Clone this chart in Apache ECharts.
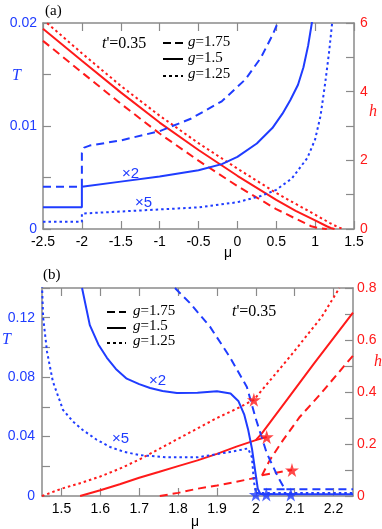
<!DOCTYPE html>
<html>
<head>
<meta charset="utf-8">
<title>T and h vs mu</title>
<script src="https://cdn.jsdelivr.net/npm/echarts@6/dist/echarts.min.js"></script>
<style>
  html, body { margin: 0; padding: 0; background: #fff; }
  #main { width: 382px; height: 529px; }
</style>
</head>
<body>
<div id="main"></div>
<script>
// ---- panel (a) ticks ----
var aMuTicks = [-2.5, -2, -1.5, -1, -0.5, 0, 0.5, 1, 1.5];
var aTTicks = [0, 0.005, 0.01, 0.015, 0.02];
var aTLabels = [0, 0.01, 0.02];
var aHTicks = [0, 1, 2, 3, 4, 5, 6];
var aHLabels = [0, 2, 4, 6];

// ---- panel (a) curves [mu, value] ----
var aT175 = [[-2.5,0.0041],[-2.0,0.0041],[-2.0,0.0074],[-1.97,0.0079],[-1.9,0.0081],[-1.5,0.0086],[-1.0,0.0095],[-0.6,0.0107],[-0.2,0.0124],[0.1,0.0145],[0.3,0.0166],[0.45,0.0188],[0.53,0.0202]];
var aT150 = [[-2.5,0.0021],[-2.0,0.0021],[-2.0,0.0041],[-1.5,0.0046],[-1.0,0.0051],[-0.5,0.0057],[-0.2,0.0063],[0,0.0070],[0.25,0.0083],[0.45,0.0098],[0.58,0.0112],[0.68,0.0125],[0.78,0.014],[0.85,0.0157],[0.91,0.0178],[0.96,0.0201]];
var aT125 = [[-2.5,0.0007],[-2.0,0.0007],[-2.0,0.0015],[-1.5,0.0017],[-1.0,0.0019],[-0.5,0.0021],[0,0.0026],[0.3,0.0032],[0.5,0.0038],[0.7,0.0049],[0.9,0.0069],[1.0,0.0087],[1.07,0.011],[1.13,0.0142],[1.18,0.0172],[1.22,0.0201]];
var aH175 = [[-2.5,5.48],[-2.0,4.56],[-1.5,3.65],[-1.0,2.78],[-0.5,1.99],[0,1.25],[0.5,0.58],[0.75,0.3],[0.95,0.08],[1.05,0.02],[1.15,0]];
var aH150 = [[-2.5,5.83],[-2.0,4.9],[-1.5,3.98],[-1.0,3.1],[-0.5,2.3],[0,1.55],[0.5,0.85],[0.75,0.53],[1.0,0.25],[1.15,0.08],[1.2,0.03],[1.25,0]];
var aH125 = [[-2.5,6.1],[-2.0,5.12],[-1.5,4.17],[-1.0,3.3],[-0.5,2.5],[0,1.76],[0.5,1.05],[0.75,0.73],[1.0,0.42],[1.2,0.16],[1.3,0.05],[1.36,0]];

// ---- panel (b) ticks ----
var bMuTicks = [1.5, 1.6, 1.7, 1.8, 1.9, 2.0, 2.1, 2.2];
var bTTicks = [0, 0.02, 0.04, 0.06, 0.08, 0.1, 0.12, 0.14];
var bTLabels = [0, 0.04, 0.08, 0.12];
var bHTicks = [0, 0.1, 0.2, 0.3, 0.4, 0.5, 0.6, 0.7, 0.8];
var bHLabels = [0, 0.2, 0.4, 0.6, 0.8];

// ---- panel (b) curves ----
var bT175 = [[1.792,0.14],[1.83,0.13],[1.882,0.114],[1.933,0.0936],[1.977,0.0734],[2.0,0.052],[2.028,0.029],[2.057,0.0128],[2.075,0.0045],[2.25,0.0045]];
var bT175b = [[2.02,0.0045],[2.075,0.0045]];
var bT150 = [[1.553,0.14],[1.573,0.115],[1.595,0.102],[1.617,0.093],[1.64,0.0855],[1.668,0.079],[1.7,0.0753],[1.728,0.0727],[1.76,0.0707],[1.797,0.0693],[1.85,0.0695],[1.9,0.0705],[1.935,0.069],[1.955,0.064],[1.97,0.055],[1.98,0.045],[1.99,0.032],[1.998,0.0175],[2.005,0.005],[2.012,0.0012],[2.25,0.0012]];
var bT125 = [[1.45,0.142],[1.453,0.12],[1.463,0.097],[1.478,0.077],[1.504,0.058],[1.53,0.05],[1.555,0.0444],[1.59,0.038],[1.625,0.033],[1.66,0.0298],[1.70,0.0276],[1.77,0.026],[1.85,0.026],[1.93,0.0295],[1.98,0.032],[1.99,0.026],[1.995,0.01],[2.0,0.002],[2.25,0.002]];
var bH175 = [[1.753,0],[1.8,0.012],[1.85,0.028],[1.9,0.04],[1.95,0.055],[2.0,0.07],[2.016,0.08],[2.036,0.138],[2.07,0.215],[2.113,0.304],[2.165,0.39],[2.25,0.54]];
var bH175b = [[2.016,0.08],[2.093,0.1]];
var bH150 = [[1.548,0],[1.6,0.022],[1.65,0.045],[1.7,0.07],[1.75,0.092],[1.8,0.115],[1.85,0.137],[1.9,0.162],[1.95,0.19],[2.0,0.215],[2.015,0.24],[2.04,0.29],[2.08,0.37],[2.15,0.51],[2.25,0.705]];
var bH150b = [[2.0,0.215],[2.028,0.227]];
var bH125 = [[1.45,0],[1.5,0.028],[1.55,0.05],[1.6,0.075],[1.65,0.105],[1.7,0.14],[1.75,0.18],[1.8,0.22],[1.85,0.26],[1.9,0.3],[1.95,0.335],[1.995,0.37],[2.09,0.54],[2.17,0.69],[2.215,0.8]];
var bHStars = [[1.995,0.37],[2.028,0.227],[2.093,0.1]];
var bTStars = [[2.0,0.001],[2.027,0.001],[2.09,0.001]];

var BLUE = '#1f3cff', RED = '#ff1a1a', AX = '#8a8a8a';
var DASH = [8, 5], DOT = [2.5, 3];
var STAR = 'path://M50,0 L61,35 L98,35 L68,57 L79,91 L50,70 L21,91 L32,57 L2,35 L39,35 Z';

var chart = echarts.init(document.getElementById('main'));

function line(data, xi, yi, color, type) {
    return {
        type: 'line', xAxisIndex: xi, yAxisIndex: yi, data: data,
        showSymbol: false, symbol: 'none', silent: true,
        lineStyle: { color: color, width: 2, type: type }
    };
}
function stars(data, xi, yi, color) {
    return {
        type: 'scatter', xAxisIndex: xi, yAxisIndex: yi, data: data,
        symbol: STAR, symbolSize: 14, itemStyle: { color: color }, z: 5
    };
}
function xax(grid, min, max, ticks, top) {
    return {
        type: 'value', gridIndex: grid, min: min, max: max, position: top ? 'top' : 'bottom',
        splitLine: { show: false },
        axisLine: { onZero: false, lineStyle: { color: AX, width: 1.5 } },
        axisTick: { inside: true, length: 8, customValues: ticks, lineStyle: { color: AX, width: 1.2 } },
        axisLabel: top ? { show: false } : { customValues: ticks, margin: 6, color: '#000', fontSize: 14, fontFamily: 'Liberation Sans, Arial' }
    };
}
function yax(grid, min, max, ticks, labels, right, color, margin) {
    return {
        type: 'value', gridIndex: grid, min: min, max: max, position: right ? 'right' : 'left',
        splitLine: { show: false },
        axisLine: { show: true, onZero: false, lineStyle: { color: AX, width: 1.5 } },
        axisTick: { show: true, inside: true, length: 8, customValues: ticks, lineStyle: { color: AX, width: 1.2 } },
        axisLabel: { customValues: labels, margin: margin, color: color, fontSize: 14, fontFamily: 'Liberation Sans, Arial' }
    };
}
function txt(x, y, text, size, color, extra) {
    var s = { text: text, x: x, y: y, fill: color, fontSize: size, fontFamily: 'Liberation Serif, Times New Roman, serif',
        align: 'left', verticalAlign: 'middle' };
    for (var k in extra) s[k] = extra[k];
    return { type: 'text', style: s, z: 10 };
}
var ITAL = { i: { fontStyle: 'italic', fontSize: 15, fontFamily: 'Liberation Serif, serif' } };
function legTxt(x, y, text) {
    return txt(x, y, text, 15, '#000', { rich: ITAL });
}
function seg(x1, y, x2, dash) {
    return { type: 'line', shape: { x1: x1, y1: y, x2: x2, y2: y }, style: { stroke: '#000', lineWidth: 2, lineDash: dash }, z: 10 };
}

chart.setOption({
    animation: false,
    grid: [
        { left: 43, top: 23, width: 311, height: 206 },
        { left: 42, top: 288, width: 311, height: 208 }
    ],
    xAxis: [
        xax(0, -2.5, 1.5, aMuTicks, false),
        xax(0, -2.5, 1.5, aMuTicks, true),
        xax(1, 1.45, 2.25, bMuTicks, false),
        xax(1, 1.45, 2.25, bMuTicks, true)
    ],
    yAxis: [
        yax(0, 0, 0.02, aTTicks, aTLabels, false, BLUE, 6),
        yax(0, 0, 6, aHTicks, aHLabels, true, RED, 6),
        yax(1, 0, 0.14, bTTicks, bTLabels, false, BLUE, 7),
        yax(1, 0, 0.8, bHTicks, bHLabels, true, RED, 4)
    ],
    series: [
        line(aH175, 0, 1, RED, DASH),
        line(aH150, 0, 1, RED, 'solid'),
        line(aH125, 0, 1, RED, DOT),
        line(aT175, 0, 0, BLUE, DASH),
        line(aT150, 0, 0, BLUE, 'solid'),
        line(aT125, 0, 0, BLUE, DOT),
        line(bH175, 2, 3, RED, DASH),
        line(bH175b, 2, 3, RED, DASH),
        line(bH150, 2, 3, RED, 'solid'),
        line(bH150b, 2, 3, RED, 'solid'),
        line(bH125, 2, 3, RED, DOT),
        line(bT175, 2, 2, BLUE, DASH),
        line(bT175b, 2, 2, BLUE, DASH),
        line(bT150, 2, 2, BLUE, 'solid'),
        line(bT125, 2, 2, BLUE, DOT),
        stars(bHStars, 2, 3, RED),
        stars(bTStars, 2, 2, BLUE)
    ],
    graphic: [
        txt(45, 11, '(a)', 15, '#000'),
        txt(102, 44, "{i|t}'=0.35", 16, '#000', { rich: { i: { fontStyle: 'italic', fontSize: 16, fontFamily: 'Liberation Serif, serif' } } }),
        seg(163, 43, 183, [8, 4]), seg(163, 59, 183, null), seg(163, 76, 183, [3, 3]),
        legTxt(188, 42, '{i|g}=1.75'), legTxt(188, 58, '{i|g}=1.5'), legTxt(188, 74, '{i|g}=1.25'),
        txt(12, 76, 'T', 16, BLUE, { fontStyle: 'italic' }),
        txt(369, 112, 'h', 16, RED, { fontStyle: 'italic' }),
        txt(224, 253, 'μ', 14, '#000', { fontFamily: 'Liberation Sans, Arial' }),
        txt(122, 174, '×2', 15, BLUE, { fontFamily: 'Liberation Sans, Arial' }),
        txt(135, 203, '×5', 15, BLUE, { fontFamily: 'Liberation Sans, Arial' }),

        txt(43, 275, '(b)', 15, '#000'),
        txt(232, 312, "{i|t}'=0.35", 16, '#000', { rich: { i: { fontStyle: 'italic', fontSize: 16, fontFamily: 'Liberation Serif, serif' } } }),
        seg(107, 312, 126, [8, 4]), seg(107, 328, 126, null), seg(107, 343, 126, [3, 3]),
        legTxt(133, 311, '{i|g}=1.75'), legTxt(133, 326, '{i|g}=1.5'), legTxt(133, 341, '{i|g}=1.25'),
        txt(2, 340, 'T', 16, BLUE, { fontStyle: 'italic' }),
        txt(374, 362, 'h', 16, RED, { fontStyle: 'italic' }),
        txt(191, 522, 'μ', 14, '#000', { fontFamily: 'Liberation Sans, Arial' }),
        txt(149, 381, '×2', 15, BLUE, { fontFamily: 'Liberation Sans, Arial' }),
        txt(112, 439, '×5', 15, BLUE, { fontFamily: 'Liberation Sans, Arial' })
    ]
});
</script>
</body>
</html>
